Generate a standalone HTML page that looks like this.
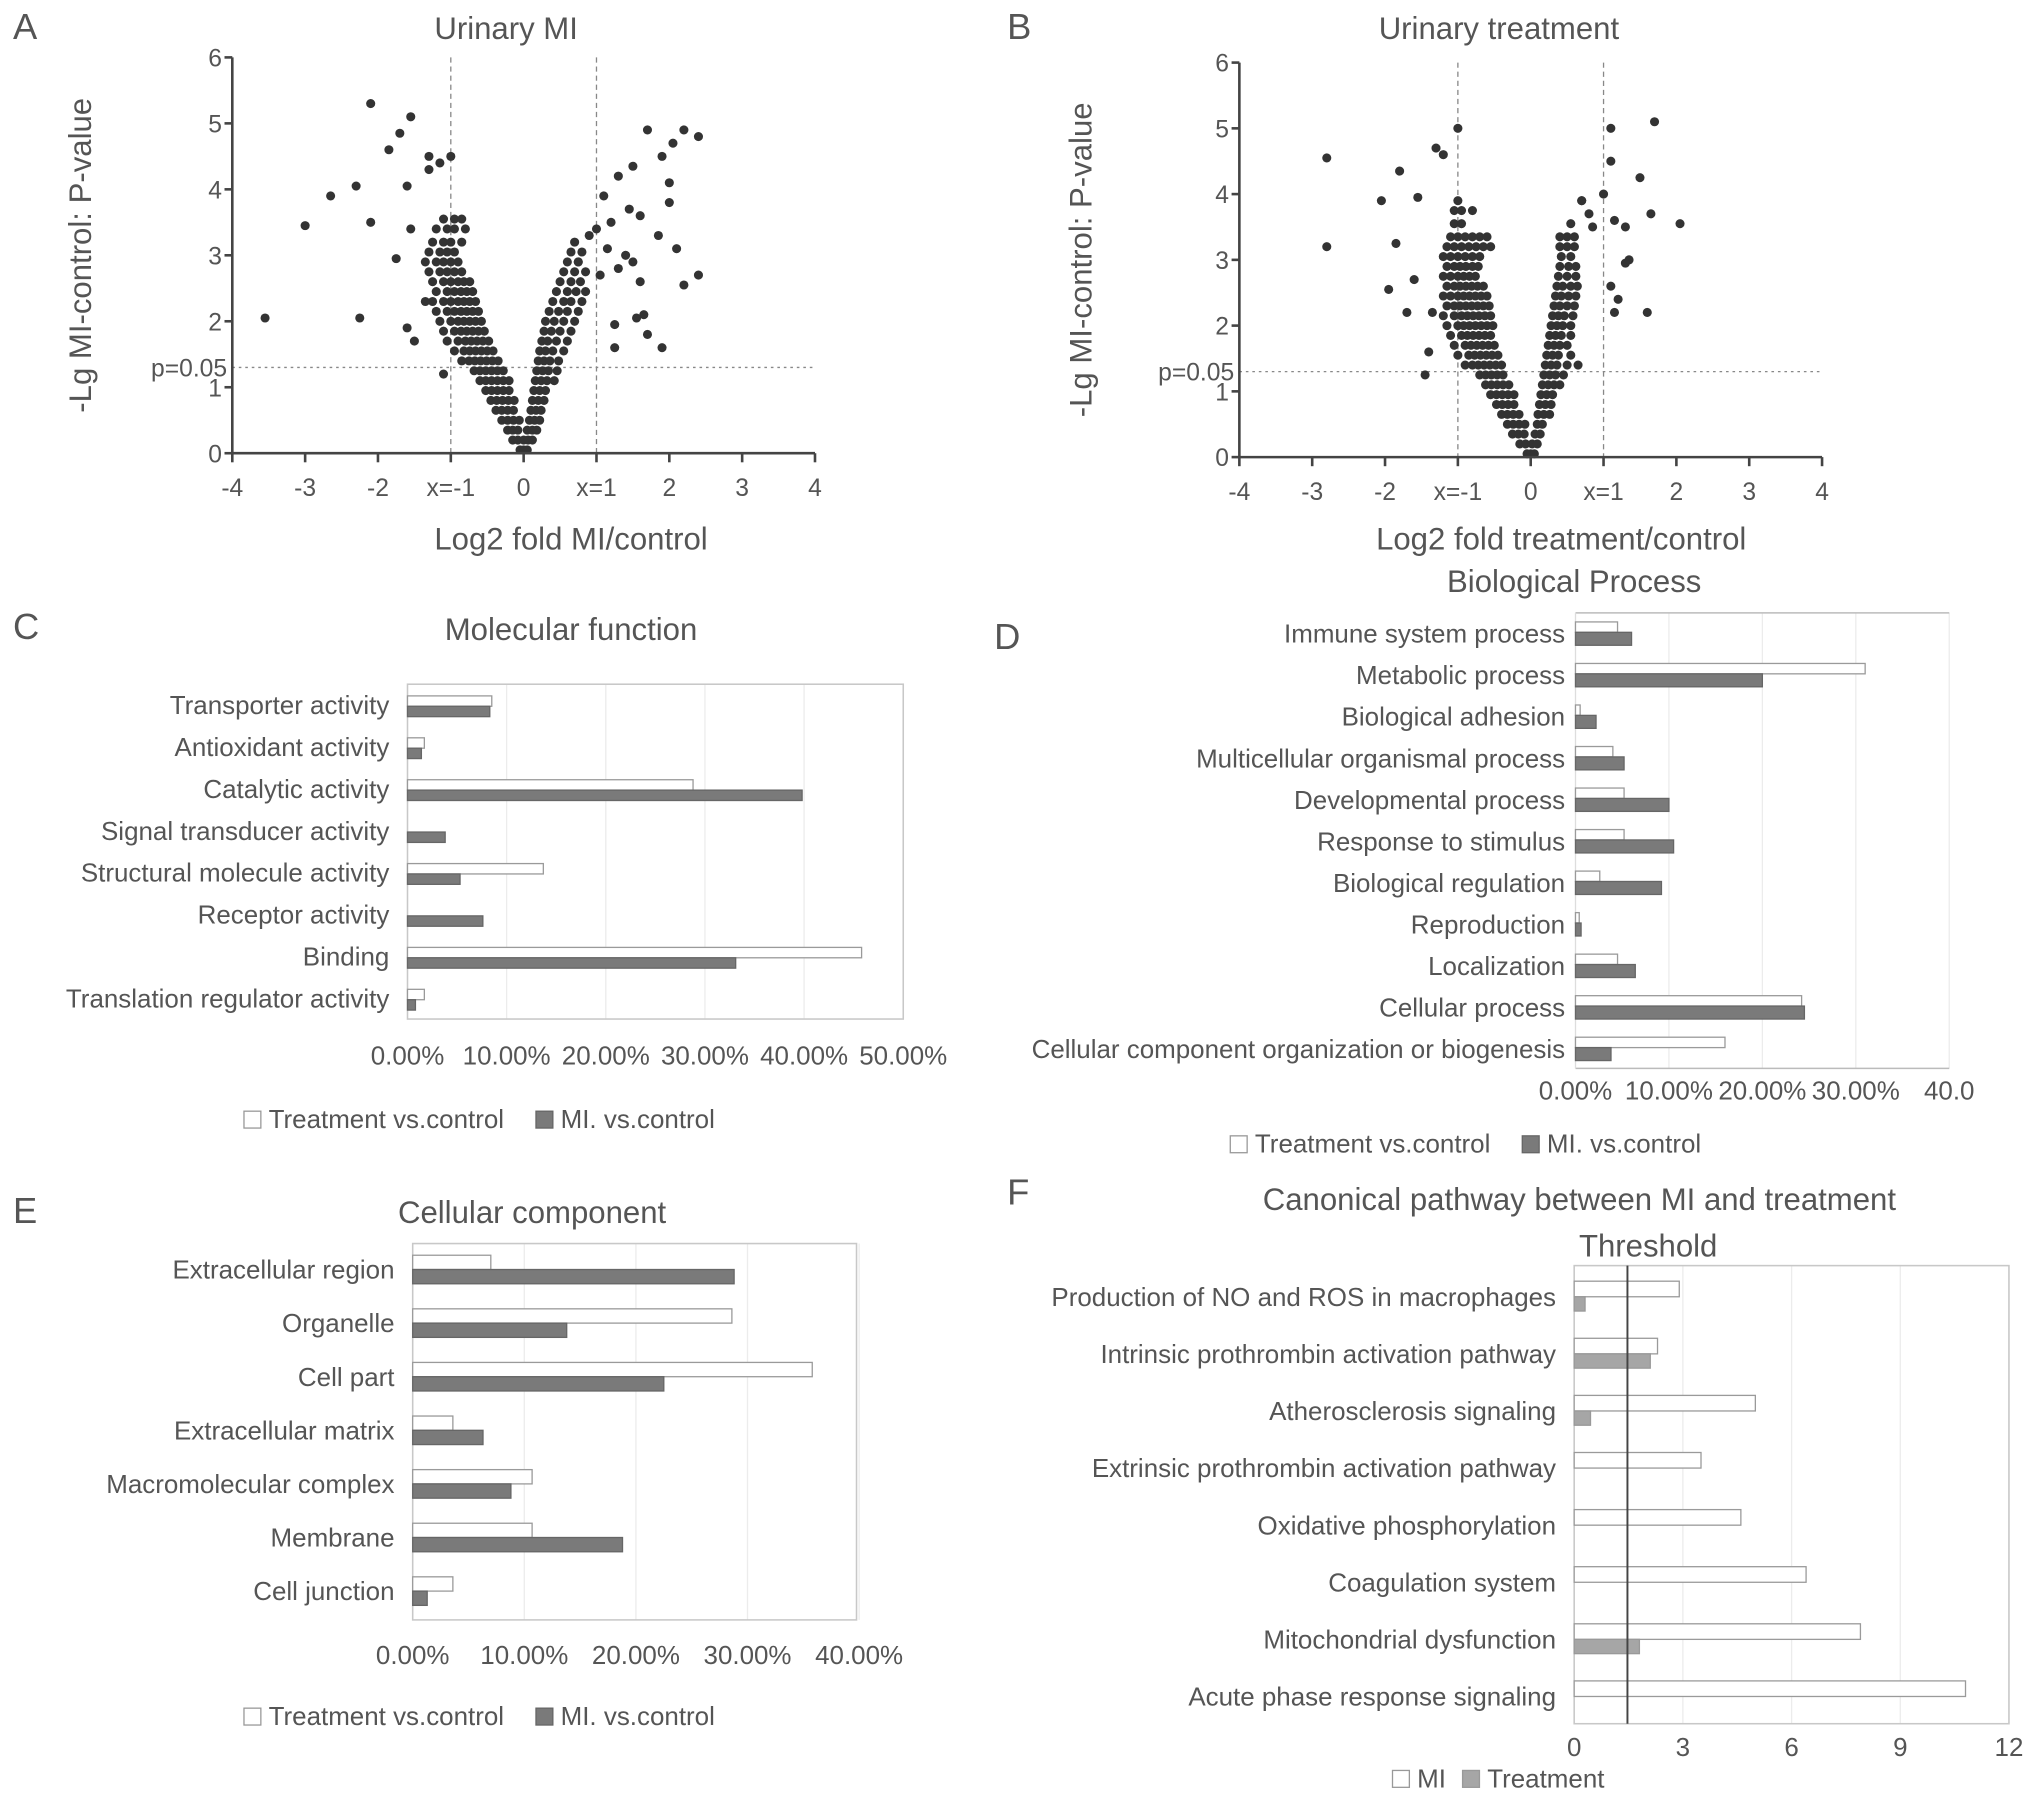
<!DOCTYPE html>
<html><head><meta charset="utf-8"><style>
html,body{margin:0;padding:0;background:#fff;}
svg{display:block;}
text{font-family:"Liberation Sans Narrow","Liberation Sans",sans-serif;fill:#555;}
</style></head><body>
<svg id="fig" width="2031" height="1798" viewBox="0 0 1565 1385" xmlns="http://www.w3.org/2000/svg"></svg>
<script>
// ---------- Volcano A data ----------
const volcanoAx = [-0.05,0,0.05, -0.15,-0.08,0,0.06,0.12, -0.22,-0.15,-0.08,0.05,0.12,0.18, -0.3,-0.22,-0.14,-0.06,0.08,0.15,0.22, -0.38,-0.3,-0.22,-0.14,0.1,0.17,0.24, -0.45,-0.37,-0.29,-0.21,-0.13,0.12,0.2,0.28, -0.52,-0.44,-0.36,-0.28,-0.2,0.14,0.22,0.3, -0.6,-0.52,-0.44,-0.36,-0.28,-0.2,0.16,0.24,0.32,0.42, -0.68,-0.6,-0.52,-0.44,-0.36,-0.28,0.18,0.26,0.34,0.46, -0.85,-0.75,-0.67,-0.59,-0.51,-0.43,-0.35,0.2,0.28,0.36,0.48, -0.95,-0.82,-0.74,-0.66,-0.58,-0.5,-0.42,0.22,0.3,0.4,0.55, -1.05,-0.9,-0.8,-0.72,-0.64,-0.56,-0.48,0.25,0.33,0.45,0.6, -1.1,-0.95,-0.86,-0.78,-0.7,-0.62,-0.54,0.28,0.38,0.5,0.65, -1.15,-1.0,-0.9,-0.82,-0.74,-0.66,-0.58,0.3,0.42,0.55,0.7, -1.2,-1.05,-0.95,-0.86,-0.78,-0.7,-0.62,0.35,0.48,0.6,0.75, -1.25,-1.1,-1.0,-0.9,-0.82,-0.74,-0.66,0.4,0.55,0.65,0.8, -1.2,-1.05,-0.95,-0.86,-0.78,-0.7,0.45,0.6,0.72,0.85, -1.25,-1.1,-1.0,-0.9,-0.82,-0.74,0.5,0.65,0.78, -1.3,-1.15,-1.05,-0.95,-0.85,0.55,0.7,0.85, -1.35,-1.2,-1.1,-1.0,-0.9,0.6,0.75, -1.3,-1.15,-1.05,-0.95,0.65,0.8, -1.25,-1.1,-1.0,-0.85,0.7, -1.2,-1.05,-0.95,-0.8, -1.1,-0.95,-0.85,
 -3.55,-3.0,-2.65,-2.3,-2.25,-2.1,-2.1,-1.85,-1.7,-1.55,-1.6,-1.75,-1.55,-1.3,-1.15,-1.0,-1.3,-1.5,-1.1,-1.35,-1.6,1.3,1.5,1.7,2.05,2.2,2.4,1.9,2.0,2.0,2.1,2.2,2.4,1.85,1.9,1.7,1.65,1.55,1.25,1.25,1.1,1.2,1.4,1.3,1.5,1.6,1.0,0.9,1.15,1.05,0.75,1.45,1.6];
const volcanoAy = [0.05,0.05,0.05, 0.2,0.2,0.2,0.2,0.2, 0.35,0.35,0.35,0.35,0.35,0.35, 0.5,0.5,0.5,0.5,0.5,0.5,0.5, 0.65,0.65,0.65,0.65,0.65,0.65,0.65, 0.8,0.8,0.8,0.8,0.8,0.8,0.8,0.8, 0.95,0.95,0.95,0.95,0.95,0.95,0.95,0.95, 1.1,1.1,1.1,1.1,1.1,1.1,1.1,1.1,1.1,1.1, 1.25,1.25,1.25,1.25,1.25,1.25,1.25,1.25,1.25,1.25, 1.4,1.4,1.4,1.4,1.4,1.4,1.4,1.4,1.4,1.4,1.4, 1.55,1.55,1.55,1.55,1.55,1.55,1.55,1.55,1.55,1.55,1.55, 1.7,1.7,1.7,1.7,1.7,1.7,1.7,1.7,1.7,1.7,1.7, 1.85,1.85,1.85,1.85,1.85,1.85,1.85,1.85,1.85,1.85,1.85, 2.0,2.0,2.0,2.0,2.0,2.0,2.0,2.0,2.0,2.0,2.0, 2.15,2.15,2.15,2.15,2.15,2.15,2.15,2.15,2.15,2.15,2.15, 2.3,2.3,2.3,2.3,2.3,2.3,2.3,2.3,2.3,2.3,2.3, 2.45,2.45,2.45,2.45,2.45,2.45,2.45,2.45,2.45,2.45, 2.6,2.6,2.6,2.6,2.6,2.6,2.6,2.6,2.6, 2.75,2.75,2.75,2.75,2.75,2.75,2.75,2.75, 2.9,2.9,2.9,2.9,2.9,2.9,2.9, 3.05,3.05,3.05,3.05,3.05,3.05, 3.2,3.2,3.2,3.2,3.2, 3.4,3.4,3.4,3.4, 3.55,3.55,3.55,
 2.05,3.45,3.9,4.05,2.05,5.3,3.5,4.6,4.85,5.1,4.05,2.95,3.4,4.5,4.4,4.5,4.3,1.7,1.2,2.3,1.9,4.2,4.35,4.9,4.7,4.9,4.8,4.5,4.1,3.8,3.1,2.55,2.7,3.3,1.6,1.8,2.1,2.05,1.95,1.6,3.9,3.5,3.0,2.8,2.9,2.6,3.4,3.3,3.1,2.7,2.9,3.7,3.6];
// ---------- Volcano B data ----------
const volcanoBx = [-0.05,0,0.05, -0.15,-0.07,0.02,0.09, -0.25,-0.17,-0.09,0.06,0.13, -0.32,-0.24,-0.16,-0.08,0.09,0.16, -0.4,-0.32,-0.24,-0.16,0.1,0.18,0.26, -0.47,-0.39,-0.31,-0.23,0.12,0.2,0.28, -0.55,-0.47,-0.39,-0.31,-0.23,0.14,0.22,0.3, -0.62,-0.54,-0.46,-0.38,-0.3,0.16,0.24,0.32,0.4, -0.7,-0.62,-0.54,-0.46,-0.38,0.18,0.26,0.34,0.45, -0.9,-0.8,-0.72,-0.64,-0.56,-0.48,-0.4,0.2,0.28,0.36,0.5,0.65, -1.0,-0.85,-0.77,-0.69,-0.61,-0.53,-0.45,0.22,0.3,0.38,0.55, -1.05,-0.9,-0.82,-0.74,-0.66,-0.58,-0.5,0.24,0.32,0.4,0.5, -1.1,-0.95,-0.87,-0.79,-0.71,-0.63,-0.55,0.26,0.34,0.42,0.55, -1.15,-1.0,-0.92,-0.84,-0.76,-0.68,-0.6,-0.52,0.28,0.36,0.44,0.55, -1.2,-1.05,-0.95,-0.87,-0.79,-0.71,-0.63,-0.55,0.3,0.38,0.46,0.58, -1.15,-1.05,-0.97,-0.89,-0.81,-0.73,-0.65,-0.57,0.32,0.4,0.5,0.6, -1.2,-1.1,-1.0,-0.92,-0.84,-0.76,-0.68,-0.6,0.34,0.42,0.52,0.62, -1.15,-1.05,-0.97,-0.89,-0.81,-0.73,-0.65,0.36,0.44,0.55,0.64, -1.2,-1.1,-1.0,-0.92,-0.84,-0.76,0.38,0.5,0.62, -1.15,-1.05,-0.97,-0.89,-0.8,-0.72,0.4,0.52,0.62, -1.2,-1.1,-1.0,-0.9,-0.8,-0.7,0.42,0.55, -1.15,-1.05,-0.95,-0.85,-0.75,-0.65,-0.55,0.4,0.5,0.6, -1.1,-1.0,-0.9,-0.8,-0.7,-0.6,0.4,0.5,0.6, -1.05,-0.95,0.55, -1.05,-0.95,-0.8, -1.0,0.7,
 -2.8,-2.8,-2.05,-1.95,-1.85,-1.8,-1.55,-1.45,-1.3,-1.2,-1.0,-1.6,-1.7,-1.35,-1.4,1.0,1.1,1.3,1.15,1.5,1.7,1.65,2.05,1.3,1.1,1.15,1.35,1.6,0.7,0.85,1.1,0.8,1.2];
const volcanoBy = [0.05,0.05,0.05, 0.2,0.2,0.2,0.2, 0.35,0.35,0.35,0.35,0.35, 0.5,0.5,0.5,0.5,0.5,0.5, 0.65,0.65,0.65,0.65,0.65,0.65,0.65, 0.8,0.8,0.8,0.8,0.8,0.8,0.8, 0.95,0.95,0.95,0.95,0.95,0.95,0.95,0.95, 1.1,1.1,1.1,1.1,1.1,1.1,1.1,1.1,1.1, 1.25,1.25,1.25,1.25,1.25,1.25,1.25,1.25,1.25, 1.4,1.4,1.4,1.4,1.4,1.4,1.4,1.4,1.4,1.4,1.4,1.4, 1.55,1.55,1.55,1.55,1.55,1.55,1.55,1.55,1.55,1.55,1.55, 1.7,1.7,1.7,1.7,1.7,1.7,1.7,1.7,1.7,1.7,1.7, 1.85,1.85,1.85,1.85,1.85,1.85,1.85,1.85,1.85,1.85,1.85, 2.0,2.0,2.0,2.0,2.0,2.0,2.0,2.0,2.0,2.0,2.0,2.0, 2.15,2.15,2.15,2.15,2.15,2.15,2.15,2.15,2.15,2.15,2.15,2.15, 2.3,2.3,2.3,2.3,2.3,2.3,2.3,2.3,2.3,2.3,2.3,2.3, 2.45,2.45,2.45,2.45,2.45,2.45,2.45,2.45,2.45,2.45,2.45,2.45, 2.6,2.6,2.6,2.6,2.6,2.6,2.6,2.6,2.6,2.6,2.6, 2.75,2.75,2.75,2.75,2.75,2.75,2.75,2.75,2.75, 2.9,2.9,2.9,2.9,2.9,2.9,2.9,2.9,2.9, 3.05,3.05,3.05,3.05,3.05,3.05,3.05,3.05, 3.2,3.2,3.2,3.2,3.2,3.2,3.2,3.2,3.2,3.2, 3.35,3.35,3.35,3.35,3.35,3.35,3.35,3.35,3.35, 3.55,3.55,3.55, 3.75,3.75,3.75, 3.9,3.9,
 4.55,3.2,3.9,2.55,3.25,4.35,3.95,1.25,4.7,4.6,5.0,2.7,2.2,2.2,1.6,4.0,5.0,3.5,3.6,4.25,5.1,3.7,3.55,2.95,2.6,2.2,3.0,2.2,3.9,3.5,4.5,3.7,2.4];
const volcanoTicksX = ["-4","-3","-2","x=-1","0","x=1","2","3","4"];
const volcanoTicksY = ["0","1","2","3","4","5","6"];

// ---------- Bar chart data ----------
const mfCategories = ["Transporter activity","Antioxidant activity","Catalytic activity","Signal transducer activity","Structural molecule activity","Receptor activity","Binding","Translation regulator activity"];
const mfTreatment = [8.5,1.7,28.8,0,13.7,0,45.8,1.7];
const mfMI = [8.3,1.4,39.8,3.8,5.3,7.6,33.1,0.8];
const mfTicks = ["0.00%","10.00%","20.00%","30.00%","40.00%","50.00%"];

const bpCategories = ["Immune system process","Metabolic process","Biological adhesion","Multicellular organismal process","Developmental process","Response to stimulus","Biological regulation","Reproduction","Localization","Cellular process","Cellular component organization or biogenesis"];
const bpTreatment = [4.5,31,0.5,4,5.2,5.2,2.6,0.4,4.5,24.2,16];
const bpMI = [6,20,2.2,5.2,10,10.5,9.2,0.6,6.4,24.5,3.8];
const bpTicks = ["0.00%","10.00%","20.00%","30.00%","40.0"];

const ccCategories = ["Extracellular region","Organelle","Cell part","Extracellular matrix","Macromolecular complex","Membrane","Cell junction"];
const ccTreatment = [7,28.6,35.8,3.6,10.7,10.7,3.6];
const ccMI = [28.8,13.8,22.5,6.3,8.8,18.8,1.3];
const ccTicks = ["0.00%","10.00%","20.00%","30.00%","40.00%"];

const cpCategories = ["Production of NO and ROS in macrophages","Intrinsic prothrombin activation pathway","Atherosclerosis signaling","Extrinsic prothrombin activation pathway","Oxidative phosphorylation","Coagulation system","Mitochondrial dysfunction","Acute phase response signaling"];
const cpMI = [2.9,2.3,5.0,3.5,4.6,6.4,7.9,10.8];
const cpTreatment = [0.3,2.1,0.45,0,0,0,1.8,0];
const cpTicks = ["0","3","6","9","12"];
const cpThreshold = 1.47;

// ---------- drawing ----------
const NS="http://www.w3.org/2000/svg";
const svg=document.getElementById('fig');
function el(tag,attrs,parent,txt){const e=document.createElementNS(NS,tag);for(const k in attrs)e.setAttribute(k,attrs[k]);if(txt!==undefined)e.textContent=txt;(parent||svg).appendChild(e);return e;}
function txt(x,y,s,size,anchor,parent,name,extra){
  const t=el('text',Object.assign({x:x,y:y,'font-size':size,'text-anchor':anchor||'start'},extra||{}),parent,s);
  
  
  return t;
}

function volcano(cfg){
  const g=el('g',{});
  
  
  const sx=v=>cfg.x0+(v+4)*(cfg.x1-cfg.x0)/8;
  const sy=v=>cfg.y0-v*(cfg.y0-cfg.y6)/6;
  txt(cfg.letterX,30,cfg.letter,28,'start',g,'panel-letter');
  txt(cfg.titleX,30,cfg.title,24,'middle',g,'chart-title');
  const guides=el('g',{stroke:'#888','stroke-width':1,'stroke-dasharray':'4,3'},g);
  
  
  el('line',{x1:sx(-1),x2:sx(-1),y1:sy(6),y2:sy(0)},guides);
  el('line',{x1:sx(1),x2:sx(1),y1:sy(6),y2:sy(0)},guides);
  el('line',{x1:sx(-4),x2:sx(4),y1:sy(1.3),y2:sy(1.3),'stroke-dasharray':'2,3'},guides);
  const pts=el('g',{fill:'#333'},g);
  
  
  for(let i=0;i<cfg.xs.length;i++){
    const c=el('circle',{cx:sx(cfg.xs[i]),cy:sy(cfg.ys[i]),r:3.5},pts);
    
    
  }
  const ax=el('g',{stroke:'#444','stroke-width':2,fill:'none'},g);
  
  
  el('line',{x1:sx(-4),x2:sx(-4),y1:sy(6),y2:sy(0)},ax);
  el('line',{x1:sx(-4),x2:sx(4),y1:sy(0),y2:sy(0)},ax);
  for(let i=0;i<volcanoTicksX.length;i++){
    const v=i-4;
    el('line',{x1:sx(v),x2:sx(v),y1:sy(0),y2:sy(0)+7},ax);
    txt(sx(v),cfg.y0+33,volcanoTicksX[i],19,'middle',g,'x-tick-label');
  }
  for(let i=0;i<volcanoTicksY.length;i++){
    el('line',{x1:sx(-4)-6,x2:sx(-4),y1:sy(i),y2:sy(i)},ax);
    txt(sx(-4)-8,sy(i)+7,volcanoTicksY[i],19,'end',g,'y-tick-label');
  }
  txt(sx(-4)-4,sy(1.3)+7,'p=0.05',19,'end',g,'p-value-label');
  txt(cfg.xTitleX,423,cfg.xTitle,24,'middle',g,'x-axis-title');
  txt(0,0,'-Lg MI-control:  P-value',24,'middle',g,'y-axis-title',{transform:`translate(${cfg.yTitleX},${(cfg.y0+cfg.y6)/2}) rotate(-90)`});
}
volcano({name:'volcano-urinary-mi',letter:'A',letterX:10,title:'Urinary MI',titleX:390,x0:179,x1:628,y0:349,y6:44,xs:volcanoAx,ys:volcanoAy,xTitle:'Log2 fold MI/control',xTitleX:440,yTitleX:70});
volcano({name:'volcano-urinary-treatment',letter:'B',letterX:776,title:'Urinary treatment',titleX:1155,x0:955,x1:1404,y0:352,y6:48,xs:volcanoBx,ys:volcanoBy,xTitle:'Log2 fold treatment/control',xTitleX:1203,yTitleX:841});

function barChart(cfg){
  const g=el('g',{});
  
  
  const sx=v=>cfg.x0+v*cfg.pxPerUnit;
  const n=cfg.cats.length;
  const cy=i=>cfg.rowTop+i*cfg.rowStep;
  for(let i=1;i<cfg.ticks.length;i++){
    const v=i*cfg.tickStep;
    el('line',{x1:sx(v),x2:sx(v),y1:cfg.boxTop,y2:cfg.boxBottom,stroke:'#ececec','stroke-width':1},g);
  }
  if(cfg.frame==='box'){
    const r=el('rect',{x:cfg.x0,y:cfg.boxTop,width:cfg.boxRight-cfg.x0,height:cfg.boxBottom-cfg.boxTop,fill:'none',stroke:'#c8c8c8','stroke-width':1.2},g);
    
    
  } else {
    el('line',{x1:cfg.x0,x2:cfg.boxRight,y1:cfg.boxTop,y2:cfg.boxTop,stroke:'#bbb','stroke-width':1.2},g);
    el('line',{x1:cfg.x0,x2:cfg.boxRight,y1:cfg.boxBottom,y2:cfg.boxBottom,stroke:'#bbb','stroke-width':1.2},g);
    el('line',{x1:cfg.x0,x2:cfg.x0,y1:cfg.boxTop,y2:cfg.boxBottom,stroke:'#ddd','stroke-width':1},g);
  }
  for(let i=0;i<n;i++){
    const c=cy(i);
    txt(cfg.x0-cfg.labelGap,c+7,cfg.cats[i],cfg.fs,'end',g,'category-label');
    const a=cfg.s1[i], b=cfg.s2[i];
    if(a>0){
      const r=el('rect',{x:cfg.x0,y:c-cfg.h1-cfg.off,width:Math.max(sx(a)-cfg.x0,1),height:cfg.h1,fill:'#fff',stroke:'#9a9a9a','stroke-width':1},g);
      
      
    }
    if(b>0){
      const r=el('rect',{x:cfg.x0,y:c-cfg.off,width:Math.max(sx(b)-cfg.x0,1),height:cfg.h2,fill:cfg.fill2,stroke:cfg.stroke2,'stroke-width':1},g);
      
      
    }
  }
  for(let i=0;i<cfg.ticks.length;i++){
    txt(sx(i*cfg.tickStep),cfg.tickY,cfg.ticks[i],cfg.tfs,'middle',g,'x-tick-label');
  }
  txt(cfg.titleX,cfg.titleY,cfg.title,24,'middle',g,'chart-title');
  txt(cfg.letterX,cfg.letterY,cfg.letter,28,'start',g,'panel-letter');
  const lg=el('g',{},g);
  
  
  const l1=el('rect',{x:cfg.leg[0],y:cfg.legY-13,width:13,height:13,fill:'#fff',stroke:'#999'},lg);
  
  
  txt(cfg.leg[0]+19,cfg.legY,cfg.l1,20,'start',lg,'legend-entry');
  const l2=el('rect',{x:cfg.leg[1],y:cfg.legY-13,width:13,height:13,fill:cfg.fill2,stroke:cfg.stroke2},lg);
  
  
  txt(cfg.leg[1]+19,cfg.legY,cfg.l2,20,'start',lg,'legend-entry');
}

barChart({name:'molecular-function-chart',cats:mfCategories,s1:mfTreatment,s2:mfMI,s1name:'treatment',s2name:'mi',ticks:mfTicks,tickStep:10,
 x0:314,pxPerUnit:7.64,boxTop:527,boxBottom:785,boxRight:696,frame:'box',rowTop:543,rowStep:32.3,h1:8,h2:8,off:-1,fs:20,labelGap:14,
 tickY:820,tfs:20,title:'Molecular function',titleX:440,titleY:493,letter:'C',letterX:10,letterY:492,
 fill2:'#7a7a7a',stroke2:'#666',leg:[188,413],legY:869,l1:'Treatment vs.control',l2:'MI. vs.control'});

barChart({name:'biological-process-chart',cats:bpCategories,s1:bpTreatment,s2:bpMI,s1name:'treatment',s2name:'mi',ticks:bpTicks,tickStep:10,
 x0:1214,pxPerUnit:7.2,boxTop:472,boxBottom:823,boxRight:1502,frame:'lines',rowTop:488,rowStep:32,h1:8,h2:10,off:1,fs:20,labelGap:8,
 tickY:847,tfs:20,title:'Biological Process',titleX:1213,titleY:456,letter:'D',letterX:766,letterY:500,
 fill2:'#7a7a7a',stroke2:'#666',leg:[948,1173],legY:888,l1:'Treatment vs.control',l2:'MI. vs.control'});

barChart({name:'cellular-component-chart',cats:ccCategories,s1:ccTreatment,s2:ccMI,s1name:'treatment',s2name:'mi',ticks:ccTicks,tickStep:10,
 x0:318,pxPerUnit:8.6,boxTop:958,boxBottom:1248,boxRight:660,frame:'box',rowTop:978,rowStep:41.3,h1:11,h2:11,off:0,fs:20,labelGap:14,
 tickY:1282,tfs:20,title:'Cellular component',titleX:410,titleY:942,letter:'E',letterX:10,letterY:942,
 fill2:'#7a7a7a',stroke2:'#666',leg:[188,413],legY:1329,l1:'Treatment vs.control',l2:'MI. vs.control'});

barChart({name:'canonical-pathway-chart',cats:cpCategories,s1:cpMI,s2:cpTreatment,s1name:'mi',s2name:'treatment',ticks:cpTicks,tickStep:3,
 x0:1213,pxPerUnit:27.92,boxTop:975,boxBottom:1328,boxRight:1548,frame:'box',rowTop:999,rowStep:44,h1:12,h2:11,off:0,fs:20,labelGap:14,
 tickY:1353,tfs:20,title:'Canonical pathway between MI and treatment',titleX:1217,titleY:932,letter:'F',letterX:776,letterY:928,
 fill2:'#a6a6a6',stroke2:'#999',leg:[1073,1127],legY:1377,l1:'MI',l2:'Treatment'});

const th=el('line',{x1:1213+cpThreshold*27.92,x2:1213+cpThreshold*27.92,y1:975,y2:1328,stroke:'#444','stroke-width':1.5});


txt(1270,968,'Threshold',24,'middle',svg,'threshold-label');
</script>
</body></html>
